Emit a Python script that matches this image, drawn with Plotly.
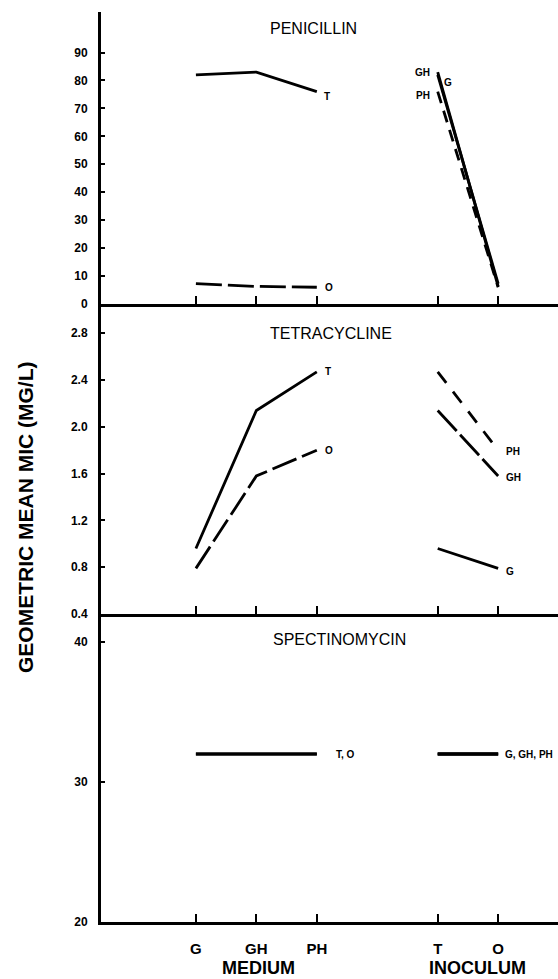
import plotly.graph_objects as go
from plotly.subplots import make_subplots

# ---------------- data ----------------
medium = ["G", "GH", "PH"]
inoculum = ["T", "O"]

# geometric mean MIC per medium, for inoculum T and O
pen_T = [82, 83, 76]
pen_O = [7.3, 6.3, 6.0]
tet_T = [0.96, 2.14, 2.47]
tet_O = [0.79, 1.58, 1.80]
spec_T = [32, 32, 32]
spec_O = [32, 32, 32]

pen_ticks = [0, 10, 20, 30, 40, 50, 60, 70, 80, 90]
tet_ticks = [0.4, 0.8, 1.2, 1.6, 2.0, 2.4, 2.8]
spec_ticks = [20, 30, 40]

drugs = ["PENICILLIN", "TETRACYCLINE", "SPECTINOMYCIN"]

# ---------------- layout helpers ----------------
xpos = {"G": 1, "GH": 2, "PH": 3, "T": 5, "O": 6}
mx = [xpos[m] for m in medium]
ix = [xpos[i] for i in inoculum]

fig = make_subplots(rows=3, cols=1, shared_xaxes=True, vertical_spacing=0,
                    row_heights=[292, 310, 308])

LW = 2.8
solid = "solid"
odash = "26px,6px"
ghdash = "28px,5px"
phdash = "14px,11px"
pphdash = "12px,8px"


def line(x, y, row, dash):
    fig.add_trace(go.Scatter(x=x, y=y, mode="lines",
                             line=dict(color="black", width=LW, dash=dash),
                             hoverinfo="skip"), row=row, col=1)


# Penicillin
line(mx, pen_T, 1, solid)
line(mx, pen_O, 1, odash)
pen_styles = {"G": solid, "GH": solid, "PH": pphdash}
for i, m in enumerate(medium):
    line(ix, [pen_T[i], pen_O[i]], 1, pen_styles[m])

# Tetracycline
line(mx, tet_T, 2, solid)
line(mx, tet_O, 2, odash)
tet_styles = {"G": solid, "GH": ghdash, "PH": phdash}
for i, m in enumerate(medium):
    line(ix, [tet_T[i], tet_O[i]], 2, tet_styles[m])

# Spectinomycin
line(mx, spec_T, 3, solid)
line(mx, spec_O, 3, solid)
for i, m in enumerate(medium):
    line(ix, [spec_T[i], spec_O[i]], 3, solid)

# ---------------- axes ----------------
tickfont = dict(family="Liberation Sans", size=12, color="black", weight="bold")
for r in (1, 2, 3):
    fig.update_xaxes(row=r, col=1, range=[-0.57, 6.99],
                     tickvals=mx + ix, ticktext=medium + inoculum,
                     ticks="inside", ticklen=8, tickwidth=2, tickcolor="black",
                     showline=True, linewidth=3, linecolor="black",
                     showgrid=False, zeroline=False)
fig.update_xaxes(row=3, col=1, showticklabels=True, ticklabelstandoff=11,
                 tickfont=dict(family="Liberation Sans", size=15, color="black",
                               weight="bold"))

yranges = [[0, 104.5], [0.4, 3.05], [20, 42]]
yticks = [pen_ticks, tet_ticks, spec_ticks]
ytext = [[str(v) for v in pen_ticks], [f"{v:.1f}" for v in tet_ticks],
         [str(v) for v in spec_ticks]]
for r in (1, 2, 3):
    fig.update_yaxes(row=r, col=1, range=yranges[r - 1],
                     tickvals=yticks[r - 1], ticktext=ytext[r - 1],
                     ticks="inside", ticklen=4, tickwidth=2, tickcolor="black",
                     showline=True, linewidth=3, linecolor="black",
                     showgrid=False, zeroline=False, tickfont=tickfont,
                     ticklabelstandoff=8)

# ---------------- text ----------------
ann = []
lab = dict(family="Liberation Sans", size=10, color="black", weight="bold")


def label(text, x, y, row, xshift=0, yshift=0, xanchor="left", size=10):
    ann.append(dict(text=text, x=x, y=y, xref=f"x{'' if row == 1 else row}",
                    yref=f"y{'' if row == 1 else row}", showarrow=False,
                    xanchor=xanchor, yanchor="middle", xshift=xshift,
                    yshift=yshift, font=dict(lab, size=size)))


# panel titles
title_font = dict(family="Liberation Sans", size=16, color="black")
ann.append(dict(text=drugs[0], x=2.94, y=98.5, xref="x", yref="y",
                showarrow=False, font=title_font))
ann.append(dict(text=drugs[1], x=3.24, y=2.80, xref="x2", yref="y2",
                showarrow=False, font=title_font))
ann.append(dict(text=drugs[2], x=3.37, y=40.2, xref="x3", yref="y3",
                showarrow=False, font=title_font))

# penicillin labels
label("T", 3, pen_T[2], 1, xshift=5, yshift=-5)
label("O", 3, pen_O[2], 1, xshift=6)
label("GH", 5, pen_T[1], 1, xshift=-6, yshift=0, xanchor="right")
label("G", 5, pen_T[0], 1, xshift=4, yshift=-8)
label("PH", 5, pen_T[2], 1, xshift=-6, yshift=-4, xanchor="right")

# tetracycline labels
label("T", 3, tet_T[2], 2, xshift=6)
label("O", 3, tet_O[2], 2, xshift=6)
label("PH", 6, tet_O[2], 2, xshift=6, yshift=-1)
label("GH", 6, tet_O[1], 2, xshift=6, yshift=-2)
label("G", 6, tet_O[0], 2, xshift=6, yshift=-3)

# spectinomycin labels
label("T, O", 3, spec_T[2], 3, xshift=17)
label("G, GH, PH", 6, spec_T[0], 3, xshift=5, size=10)

# axis titles
big = dict(family="Liberation Sans", size=18, color="black", weight="bold")
ann.append(dict(text="MEDIUM", x=2.04, y=-0.051, xref="x3", yref="paper",
                xanchor="center", yanchor="middle", showarrow=False, font=big))
ann.append(dict(text="INOCULUM", x=5.66, y=-0.051, xref="x3", yref="paper",
                xanchor="center", yanchor="middle", showarrow=False, font=big))
ann.append(dict(text="GEOMETRIC MEAN MIC (MG/L)", x=-0.164, y=0.444,
                xref="paper", yref="paper", textangle=-90, showarrow=False,
                xanchor="center", yanchor="middle",
                font=dict(family="Liberation Sans", size=21, color="black",
                          weight="bold")))

fig.update_layout(width=558, height=979,
                  margin=dict(l=101, r=0, t=12, b=57, autoexpand=False),
                  plot_bgcolor="white", paper_bgcolor="white",
                  showlegend=False, annotations=ann)

fig.write_html("out.html", config={"displayModeBar": False},
               post_script="document.body.style.margin='0';"
                           "document.body.style.overflow='hidden';")
